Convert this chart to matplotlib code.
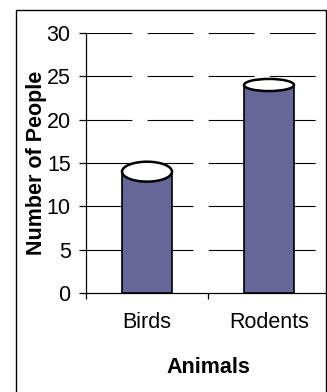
import matplotlib
matplotlib.use('Agg')
import matplotlib.pyplot as plt
from matplotlib.patches import Ellipse, Rectangle

plt.rcParams['font.family'] = ['Liberation Sans', 'DejaVu Sans']

# Données
animals = ['Birds', 'Rodents']
people = [14, 24]
y_ticks = [0, 5, 10, 15, 20, 25, 30]

# Hauteur des couvercles (unités de l'axe y)
cap_heights = [2.3, 1.4]

fig = plt.figure(figsize=(3.27, 3.92), dpi=100)
fig.patch.set_facecolor('white')

# Cadre extérieur
fig.patches.append(Rectangle((16 / 327, -0.01), 310 / 327, 1 - 10 / 392 + 0.01,
                             transform=fig.transFigure, fill=False,
                             edgecolor='black', linewidth=1.0))

ax = fig.add_axes([86 / 327, 1 - 293 / 392, 244 / 327, 260 / 392])
ax.set_xlim(-0.5, len(animals) - 0.5)
ax.set_ylim(0, 30)

# Quadrillage en tirets
grid_lw = 0.8
for y in y_ticks[1:]:
    ax.axhline(y, xmin=0, xmax=0.943, color='black', linewidth=grid_lw,
               dashes=(33 / grid_lw, 11 / grid_lw), zorder=1)

width = 0.41
x = range(len(animals))
ax.bar(x, people, width=width, color='#666699', edgecolor='black',
       linewidth=1.2, zorder=2)

# Couvercle des cylindres
for xi, val, h in zip(x, people, cap_heights):
    ax.add_patch(Ellipse((xi, val), width, h, facecolor='white',
                         edgecolor='black', linewidth=1.8, zorder=3))

ax.spines['top'].set_visible(False)
ax.spines['right'].set_visible(False)
ax.spines['left'].set_linewidth(0.9)
ax.spines['bottom'].set_linewidth(0.9)

fs = 15.5
ax.set_yticks(y_ticks)
ax.tick_params(axis='y', length=5, width=0.9, pad=6, labelsize=fs)

ax.set_xticks(list(x))
ax.set_xticklabels(animals)
ax.tick_params(axis='x', which='major', length=0, pad=14, labelsize=fs)
ax.set_xticks([-0.5, 0.5], minor=True)
ax.tick_params(axis='x', which='minor', length=4, width=0.9)

ax.set_xlabel('Animals', fontsize=fs, fontweight='bold', labelpad=17)
ax.set_ylabel('Number of People', fontsize=fs, fontweight='bold', labelpad=0)

fig.savefig('out.png', dpi=100, facecolor='white')
plt.close(fig)
